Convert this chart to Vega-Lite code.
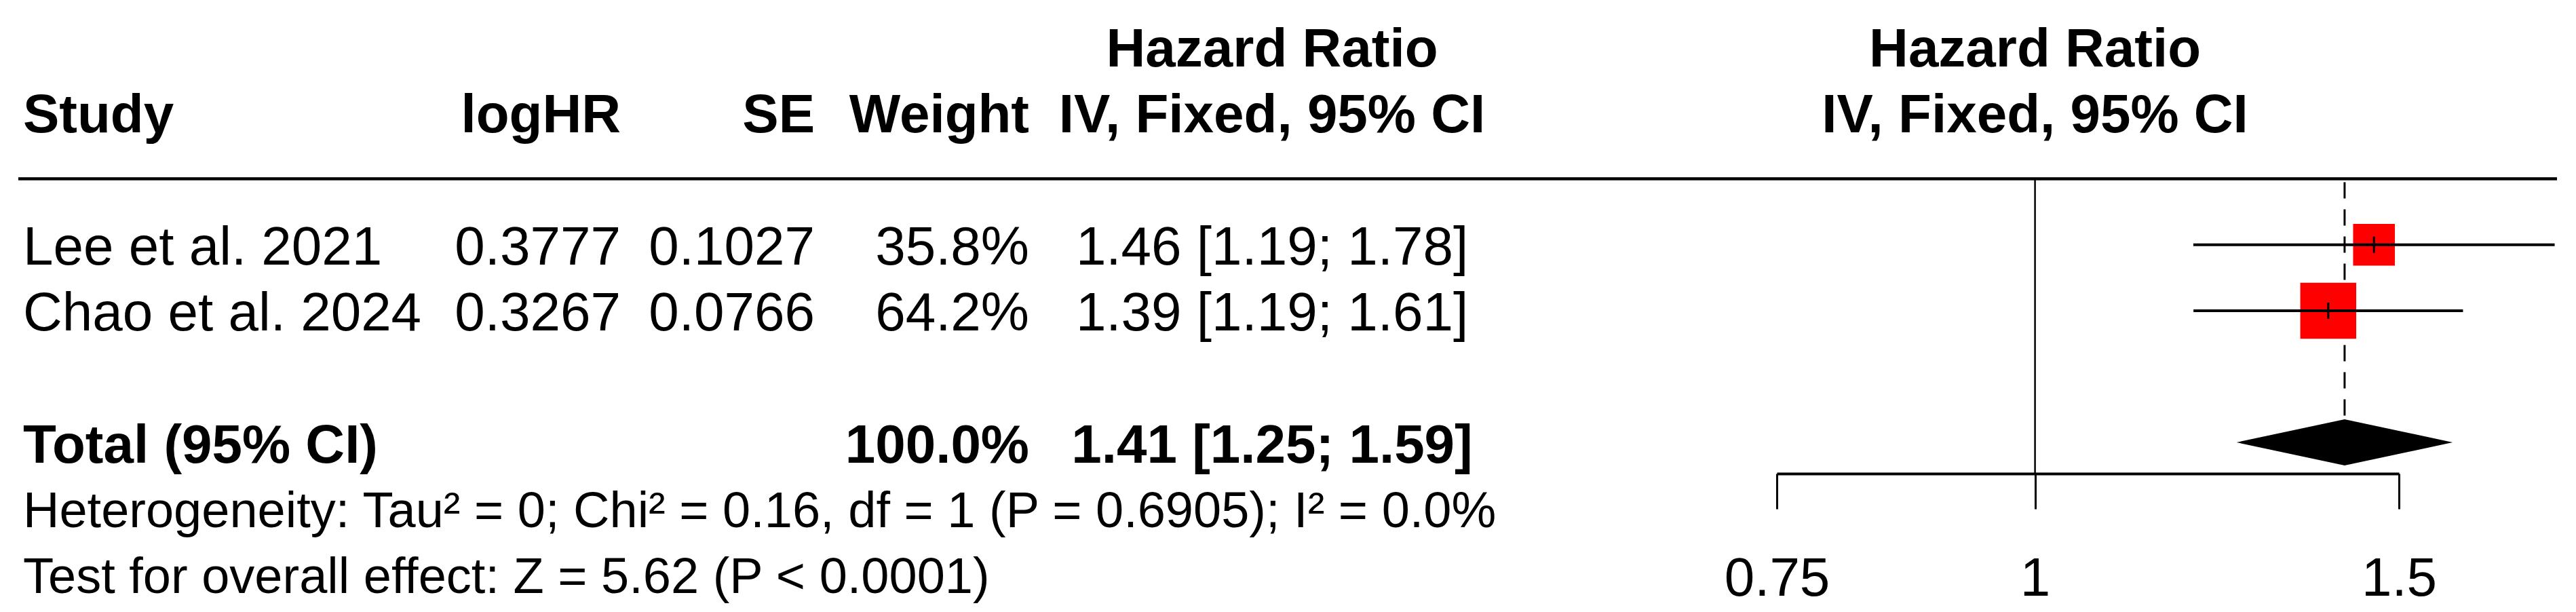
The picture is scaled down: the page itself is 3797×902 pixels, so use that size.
{
  "$schema": "https://vega.github.io/schema/vega-lite/v6.json",
  "padding": {"left": 24, "top": 34, "right": 29, "bottom": 9},
  "bounds": "flush",
  "spacing": 0,
  "config": {
    "view": {"stroke": null},
    "text": {"font": "Liberation Sans", "fontSize": 80, "color": "black", "baseline": "middle", "dy": 5},
    "axis": {"labelFont": "Liberation Sans"}
  },
  "datasets": {
    "headers": [
      {"col": "study", "label": "Study", "row": 2},
      {"col": "logHR", "label": "logHR", "row": 2},
      {"col": "SE", "label": "SE", "row": 2},
      {"col": "weight", "label": "Weight", "row": 2},
      {"col": "ci", "label": "Hazard Ratio", "row": 1},
      {"col": "ci", "label": "IV, Fixed, 95% CI", "row": 2},
      {"col": "plot", "label": "Hazard Ratio", "row": 1},
      {"col": "plot", "label": "IV, Fixed, 95% CI", "row": 2}
    ],
    "studies": [
      {"study": "Lee et al. 2021", "logHR": 0.3777, "SE": 0.1027, "weight": 35.8, "weightLabel": "35.8%", "ci": "1.46 [1.19; 1.78]", "hr": 1.4589, "lower": 1.1929, "upper": 1.7842, "row": 4},
      {"study": "Chao et al. 2024", "logHR": 0.3267, "SE": 0.0766, "weight": 64.2, "weightLabel": "64.2%", "ci": "1.39 [1.19; 1.61]", "hr": 1.3864, "lower": 1.1931, "upper": 1.6110, "row": 5}
    ],
    "total": [
      {"study": "Total (95% CI)", "weightLabel": "100.0%", "ci": "1.41 [1.25; 1.59]", "hr": 1.4119, "lower": 1.2518, "upper": 1.5925, "row": 7}
    ],
    "diamond": [
      {"hr": 1.2518, "top": 0, "bottom": 0},
      {"hr": 1.4119, "top": 1, "bottom": -1},
      {"hr": 1.5925, "top": 0, "bottom": 0}
    ],
    "notes": [
      {"text": "Heterogeneity: Tau² = 0; Chi² = 0.16, df = 1 (P = 0.6905); I² = 0.0%", "row": 8},
      {"text": "Test for overall effect: Z = 5.62 (P < 0.0001)", "row": 9}
    ],
    "separator": [{"row": 3}],
    "nullEffect": [{"hr": 1}]
  },
  "hconcat": [
    {
      "width": 576, "height": 435,
      "layer": [
        {"data": {"name": "separator"}, "mark": {"type": "rule", "strokeWidth": 4.5, "color": "black"},
         "encoding": {"y": {"field": "row", "type": "quantitative", "scale": {"domain": [1, 9], "range": [-194, 584], "nice": false, "zero": false}, "axis": null}}},
        {"data": {"name": "headers"}, "transform": [{"filter": "datum.col === 'study'"}],
         "mark": {"type": "text", "align": "left", "dx": 7, "fontWeight": "bold"},
         "encoding": {
           "x": {"datum": 0, "type": "quantitative", "scale": {"domain": [0, 1], "nice": false, "zero": false}, "axis": null},
           "y": {"field": "row", "type": "quantitative", "scale": {"domain": [1, 9], "range": [-194, 584], "nice": false, "zero": false}, "axis": null},
           "text": {"field": "label", "type": "nominal"}}},
        {"data": {"name": "studies"},
         "mark": {"type": "text", "align": "left", "dx": 7},
         "encoding": {
           "x": {"datum": 0, "type": "quantitative", "scale": {"domain": [0, 1], "nice": false, "zero": false}, "axis": null},
           "y": {"field": "row", "type": "quantitative", "scale": {"domain": [1, 9], "range": [-194, 584], "nice": false, "zero": false}, "axis": null},
           "text": {"field": "study", "type": "nominal"}}},
        {"data": {"name": "total"},
         "mark": {"type": "text", "align": "left", "dx": 7, "fontWeight": "bold"},
         "encoding": {
           "x": {"datum": 0, "type": "quantitative", "scale": {"domain": [0, 1], "nice": false, "zero": false}, "axis": null},
           "y": {"field": "row", "type": "quantitative", "scale": {"domain": [1, 9], "range": [-194, 584], "nice": false, "zero": false}, "axis": null},
           "text": {"field": "study", "type": "nominal"}}},
        {"data": {"name": "notes"},
         "mark": {"type": "text", "align": "left", "dx": 7, "fontSize": 74},
         "encoding": {
           "x": {"datum": 0, "type": "quantitative", "scale": {"domain": [0, 1], "nice": false, "zero": false}, "axis": null},
           "y": {"field": "row", "type": "quantitative", "scale": {"domain": [1, 9], "range": [-194, 584], "nice": false, "zero": false}, "axis": null},
           "text": {"field": "text", "type": "nominal"}}}
      ]
    },
    {
      "width": 312, "height": 435,
      "layer": [
        {"data": {"name": "separator"}, "mark": {"type": "rule", "strokeWidth": 4.5, "color": "black"},
         "encoding": {"y": {"field": "row", "type": "quantitative", "scale": {"domain": [1, 9], "range": [-194, 584], "nice": false, "zero": false}, "axis": null}}},
        {"data": {"name": "headers"}, "transform": [{"filter": "datum.col === 'logHR'"}],
         "mark": {"type": "text", "align": "right", "fontWeight": "bold"},
         "encoding": {
           "x": {"datum": 1, "type": "quantitative", "scale": {"domain": [0, 1], "nice": false, "zero": false}, "axis": null},
           "y": {"field": "row", "type": "quantitative", "scale": {"domain": [1, 9], "range": [-194, 584], "nice": false, "zero": false}, "axis": null},
           "text": {"field": "label", "type": "nominal"}}},
        {"data": {"name": "studies"},
         "mark": {"type": "text", "align": "right"},
         "encoding": {
           "x": {"datum": 1, "type": "quantitative", "scale": {"domain": [0, 1], "nice": false, "zero": false}, "axis": null},
           "y": {"field": "row", "type": "quantitative", "scale": {"domain": [1, 9], "range": [-194, 584], "nice": false, "zero": false}, "axis": null},
           "text": {"field": "logHR", "type": "quantitative", "format": ".4f"}}}
      ]
    },
    {
      "width": 286, "height": 435,
      "layer": [
        {"data": {"name": "separator"}, "mark": {"type": "rule", "strokeWidth": 4.5, "color": "black"},
         "encoding": {"y": {"field": "row", "type": "quantitative", "scale": {"domain": [1, 9], "range": [-194, 584], "nice": false, "zero": false}, "axis": null}}},
        {"data": {"name": "headers"}, "transform": [{"filter": "datum.col === 'SE'"}],
         "mark": {"type": "text", "align": "right", "fontWeight": "bold"},
         "encoding": {
           "x": {"datum": 1, "type": "quantitative", "scale": {"domain": [0, 1], "nice": false, "zero": false}, "axis": null},
           "y": {"field": "row", "type": "quantitative", "scale": {"domain": [1, 9], "range": [-194, 584], "nice": false, "zero": false}, "axis": null},
           "text": {"field": "label", "type": "nominal"}}},
        {"data": {"name": "studies"},
         "mark": {"type": "text", "align": "right"},
         "encoding": {
           "x": {"datum": 1, "type": "quantitative", "scale": {"domain": [0, 1], "nice": false, "zero": false}, "axis": null},
           "y": {"field": "row", "type": "quantitative", "scale": {"domain": [1, 9], "range": [-194, 584], "nice": false, "zero": false}, "axis": null},
           "text": {"field": "SE", "type": "quantitative", "format": ".4f"}}}
      ]
    },
    {
      "width": 316, "height": 435,
      "layer": [
        {"data": {"name": "separator"}, "mark": {"type": "rule", "strokeWidth": 4.5, "color": "black"},
         "encoding": {"y": {"field": "row", "type": "quantitative", "scale": {"domain": [1, 9], "range": [-194, 584], "nice": false, "zero": false}, "axis": null}}},
        {"data": {"name": "headers"}, "transform": [{"filter": "datum.col === 'weight'"}],
         "mark": {"type": "text", "align": "right", "fontWeight": "bold"},
         "encoding": {
           "x": {"datum": 1, "type": "quantitative", "scale": {"domain": [0, 1], "nice": false, "zero": false}, "axis": null},
           "y": {"field": "row", "type": "quantitative", "scale": {"domain": [1, 9], "range": [-194, 584], "nice": false, "zero": false}, "axis": null},
           "text": {"field": "label", "type": "nominal"}}},
        {"data": {"name": "studies"},
         "mark": {"type": "text", "align": "right"},
         "encoding": {
           "x": {"datum": 1, "type": "quantitative", "scale": {"domain": [0, 1], "nice": false, "zero": false}, "axis": null},
           "y": {"field": "row", "type": "quantitative", "scale": {"domain": [1, 9], "range": [-194, 584], "nice": false, "zero": false}, "axis": null},
           "text": {"field": "weightLabel", "type": "nominal"}}},
        {"data": {"name": "total"},
         "mark": {"type": "text", "align": "right", "fontWeight": "bold"},
         "encoding": {
           "x": {"datum": 1, "type": "quantitative", "scale": {"domain": [0, 1], "nice": false, "zero": false}, "axis": null},
           "y": {"field": "row", "type": "quantitative", "scale": {"domain": [1, 9], "range": [-194, 584], "nice": false, "zero": false}, "axis": null},
           "text": {"field": "weightLabel", "type": "nominal"}}}
      ]
    },
    {
      "width": 716, "height": 435,
      "layer": [
        {"data": {"name": "separator"}, "mark": {"type": "rule", "strokeWidth": 4.5, "color": "black"},
         "encoding": {"y": {"field": "row", "type": "quantitative", "scale": {"domain": [1, 9], "range": [-194, 584], "nice": false, "zero": false}, "axis": null}}},
        {"data": {"name": "headers"}, "transform": [{"filter": "datum.col === 'ci'"}],
         "mark": {"type": "text", "align": "center", "fontWeight": "bold"},
         "encoding": {
           "x": {"datum": 0.5, "type": "quantitative", "scale": {"domain": [0, 1], "nice": false, "zero": false}, "axis": null},
           "y": {"field": "row", "type": "quantitative", "scale": {"domain": [1, 9], "range": [-194, 584], "nice": false, "zero": false}, "axis": null},
           "text": {"field": "label", "type": "nominal"}}},
        {"data": {"name": "studies"},
         "mark": {"type": "text", "align": "center"},
         "encoding": {
           "x": {"datum": 0.5, "type": "quantitative", "scale": {"domain": [0, 1], "nice": false, "zero": false}, "axis": null},
           "y": {"field": "row", "type": "quantitative", "scale": {"domain": [1, 9], "range": [-194, 584], "nice": false, "zero": false}, "axis": null},
           "text": {"field": "ci", "type": "nominal"}}},
        {"data": {"name": "total"},
         "mark": {"type": "text", "align": "center", "fontWeight": "bold"},
         "encoding": {
           "x": {"datum": 0.5, "type": "quantitative", "scale": {"domain": [0, 1], "nice": false, "zero": false}, "axis": null},
           "y": {"field": "row", "type": "quantitative", "scale": {"domain": [1, 9], "range": [-194, 584], "nice": false, "zero": false}, "axis": null},
           "text": {"field": "ci", "type": "nominal"}}}
      ]
    },
    {
      "width": 386, "height": 435,
      "layer": [
        {"data": {"name": "separator"}, "mark": {"type": "rule", "strokeWidth": 4.5, "color": "black"},
         "encoding": {"y": {"field": "row", "type": "quantitative", "scale": {"domain": [1, 9], "range": [-194, 584], "nice": false, "zero": false}, "axis": null}}}
      ]
    },
    {
      "width": 917, "height": 435,
      "resolve": {"scale": {"y": "independent"}},
      "layer": [
        {"data": {"name": "separator"}, "mark": {"type": "rule", "strokeWidth": 4.5, "color": "black"},
         "encoding": {"y": {"field": "row", "type": "quantitative", "scale": {"domain": [1, 9], "range": [-194, 584], "nice": false, "zero": false}, "axis": null}}},
        {"data": {"name": "nullEffect"}, "mark": {"type": "rule", "strokeWidth": 2.5, "color": "black"},
         "encoding": {
           "x": {"field": "hr", "type": "quantitative", "scale": {"type": "log", "domain": [0.75, 1.5], "nice": false, "zero": false},
                 "axis": {"values": [0.75, 1, 1.5], "format": "~g", "title": null, "grid": false, "domainColor": "black", "domainWidth": 4, "tickColor": "black", "tickWidth": 3, "tickSize": 52, "labelFontSize": 80, "labelColor": "black", "labelPadding": 64, "labelFlush": false, "labelOverlap": false}}}},
        {"data": {"name": "total"}, "mark": {"type": "rule", "strokeWidth": 3, "color": "black", "strokeDash": [24, 16]},
         "encoding": {
           "x": {"field": "hr", "type": "quantitative", "scale": {"type": "log", "domain": [0.75, 1.5], "nice": false, "zero": false},
                 "axis": {"values": [0.75, 1, 1.5], "format": "~g", "title": null, "grid": false, "domainColor": "black", "domainWidth": 4, "tickColor": "black", "tickWidth": 3, "tickSize": 52, "labelFontSize": 80, "labelColor": "black", "labelPadding": 64, "labelFlush": false, "labelOverlap": false}},
           "y": {"field": "row", "type": "quantitative", "scale": {"domain": [1, 9], "range": [-194, 584], "nice": false, "zero": false}, "axis": null},
           "y2": {"datum": 3}}},
        {"data": {"name": "studies"},
         "mark": {"type": "point", "shape": "square", "filled": true, "color": "#ff0000", "opacity": 1, "strokeWidth": 0},
         "encoding": {
           "x": {"field": "hr", "type": "quantitative", "scale": {"type": "log", "domain": [0.75, 1.5], "nice": false, "zero": false},
                 "axis": {"values": [0.75, 1, 1.5], "format": "~g", "title": null, "grid": false, "domainColor": "black", "domainWidth": 4, "tickColor": "black", "tickWidth": 3, "tickSize": 52, "labelFontSize": 80, "labelColor": "black", "labelPadding": 64, "labelFlush": false, "labelOverlap": false}},
           "y": {"field": "row", "type": "quantitative", "scale": {"domain": [1, 9], "range": [-194, 584], "nice": false, "zero": false}, "axis": null},
           "size": {"field": "weight", "type": "quantitative", "scale": {"type": "linear", "domain": [0, 100], "range": [0, 10590]}, "legend": null}}},
        {"data": {"name": "studies"},
         "mark": {"type": "rule", "strokeWidth": 4, "color": "black"},
         "encoding": {
           "x": {"field": "lower", "type": "quantitative", "scale": {"type": "log", "domain": [0.75, 1.5], "nice": false, "zero": false},
                 "axis": {"values": [0.75, 1, 1.5], "format": "~g", "title": null, "grid": false, "domainColor": "black", "domainWidth": 4, "tickColor": "black", "tickWidth": 3, "tickSize": 52, "labelFontSize": 80, "labelColor": "black", "labelPadding": 64, "labelFlush": false, "labelOverlap": false}},
           "x2": {"field": "upper"},
           "y": {"field": "row", "type": "quantitative", "scale": {"domain": [1, 9], "range": [-194, 584], "nice": false, "zero": false}, "axis": null}}},
        {"data": {"name": "studies"},
         "mark": {"type": "tick", "orient": "vertical", "size": 24, "thickness": 3, "color": "black", "opacity": 1},
         "encoding": {
           "x": {"field": "hr", "type": "quantitative", "scale": {"type": "log", "domain": [0.75, 1.5], "nice": false, "zero": false},
                 "axis": {"values": [0.75, 1, 1.5], "format": "~g", "title": null, "grid": false, "domainColor": "black", "domainWidth": 4, "tickColor": "black", "tickWidth": 3, "tickSize": 52, "labelFontSize": 80, "labelColor": "black", "labelPadding": 64, "labelFlush": false, "labelOverlap": false}},
           "y": {"field": "row", "type": "quantitative", "scale": {"domain": [1, 9], "range": [-194, 584], "nice": false, "zero": false}, "axis": null}}},
        {"data": {"name": "diamond"},
         "mark": {"type": "area", "color": "black", "opacity": 1, "interpolate": "linear", "orient": "vertical"},
         "encoding": {
           "x": {"field": "hr", "type": "quantitative", "scale": {"type": "log", "domain": [0.75, 1.5], "nice": false, "zero": false},
                 "axis": {"values": [0.75, 1, 1.5], "format": "~g", "title": null, "grid": false, "domainColor": "black", "domainWidth": 4, "tickColor": "black", "tickWidth": 3, "tickSize": 52, "labelFontSize": 80, "labelColor": "black", "labelPadding": 64, "labelFlush": false, "labelOverlap": false}},
           "y": {"field": "top", "type": "quantitative", "scale": {"domain": [-1, 1], "range": [423, 355], "nice": false, "zero": false}, "axis": null},
           "y2": {"field": "bottom"}}},
        {"data": {"name": "headers"}, "transform": [{"filter": "datum.col === 'plot'"}],
         "mark": {"type": "text", "align": "center", "fontWeight": "bold"},
         "encoding": {
           "x": {"datum": 1, "type": "quantitative", "scale": {"type": "log", "domain": [0.75, 1.5], "nice": false, "zero": false},
                 "axis": {"values": [0.75, 1, 1.5], "format": "~g", "title": null, "grid": false, "domainColor": "black", "domainWidth": 4, "tickColor": "black", "tickWidth": 3, "tickSize": 52, "labelFontSize": 80, "labelColor": "black", "labelPadding": 64, "labelFlush": false, "labelOverlap": false}},
           "y": {"field": "row", "type": "quantitative", "scale": {"domain": [1, 9], "range": [-194, 584], "nice": false, "zero": false}, "axis": null},
           "text": {"field": "label", "type": "nominal"}}}
      ]
    },
    {
      "width": 233, "height": 435,
      "layer": [
        {"data": {"name": "separator"}, "mark": {"type": "rule", "strokeWidth": 4.5, "color": "black"},
         "encoding": {"y": {"field": "row", "type": "quantitative", "scale": {"domain": [1, 9], "range": [-194, 584], "nice": false, "zero": false}, "axis": null}}}
      ]
    }
  ]
}
